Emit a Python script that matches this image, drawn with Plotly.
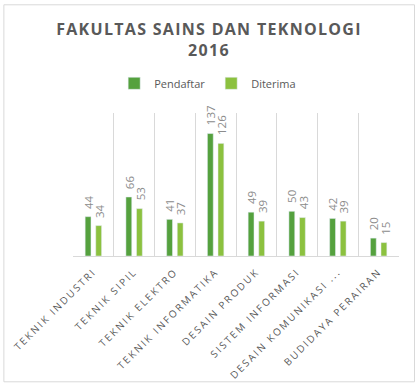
import plotly.graph_objects as go

categories = ["TEKNIK INDUSTRI", "TEKNIK SIPIL", "TEKNIK ELEKTRO", "TEKNIK INFORMATIKA",
              "DESAIN PRODUK", "SISTEM INFORMASI", "DESAIN KOMUNIKASI ...", "BUDIDAYA PERAIRAN"]
pendaftar = [44, 66, 41, 137, 49, 50, 42, 20]
diterima = [34, 53, 37, 126, 39, 43, 39, 15]
title_lines = ["FAKULTAS SAINS DAN TEKNOLOGI", "2016"]

W, H = 418, 384
L, R, T, B = 72.7, 399, 112.7, 255.7

def spaced(s, ls):
    return '<span style="letter-spacing:%spx">%s</span>' % (ls, s)

series = [("Pendaftar", pendaftar, "#55a13e", -5.0), ("Diterima", diterima, "#8cc13f", 6.0)]

fig = go.Figure()
annotations = []
for name, vals, col, shift in series:
    fig.add_trace(go.Bar(name=name, x=categories, y=vals, marker_color=col))
    for c, v in zip(categories, vals):
        annotations.append(dict(x=c, y=v, xref="x", yref="y", text=str(v), showarrow=False,
                                textangle=-90, xanchor="center", yanchor="bottom",
                                xshift=shift, yshift=6,
                                font=dict(size=11.5, color="#8c8c8c", family="Open Sans")))

pw, ph = R - L, B - T
def px(x): return (x - L) / pw
def py(y): return (B - y) / ph

fig.update_layout(
    width=W, height=H,
    margin=dict(l=L, r=W - R, t=T, b=H - B, autoexpand=False),
    paper_bgcolor="white", plot_bgcolor="white",
    barmode="group", bargap=0.48, bargroupgap=0.45,
    font=dict(family="Open Sans", color="#595959"),
    title=dict(text="<br>".join(spaced(t, 1.3) for t in title_lines), x=0.5, xanchor="center",
               yref="container", y=1 - 35 / H, yanchor="top",
               font=dict(size=16, color="#595959", family="Open Sans", weight="bold")),
    legend=dict(orientation="h", x=px(211), xanchor="center", y=py(83), yanchor="middle",
                font=dict(size=11, color="#595959"), itemwidth=30, traceorder="normal",
                entrywidth=52, entrywidthmode="pixels"),
    xaxis=dict(tickson="boundaries", showgrid=True, gridcolor="#d9d9d9", gridwidth=1,
               showline=True, linecolor="#d9d9d9", ticks="", tickangle=-45,
               ticklabelstandoff=5,
               tickmode="array", tickvals=categories,
               ticktext=[spaced(c, 2) for c in categories],
               tickfont=dict(size=10, color="#595959", family="Open Sans")),
    yaxis=dict(range=[0, 160], visible=False, showgrid=False),
    annotations=annotations,
    shapes=[dict(type="rect", xref="paper", yref="paper",
                 x0=px(3.5), x1=px(414.5), y0=py(381.5), y1=py(4.5),
                 line=dict(color="#d9d9d9", width=1))],
)

fig.write_html("out.html")
